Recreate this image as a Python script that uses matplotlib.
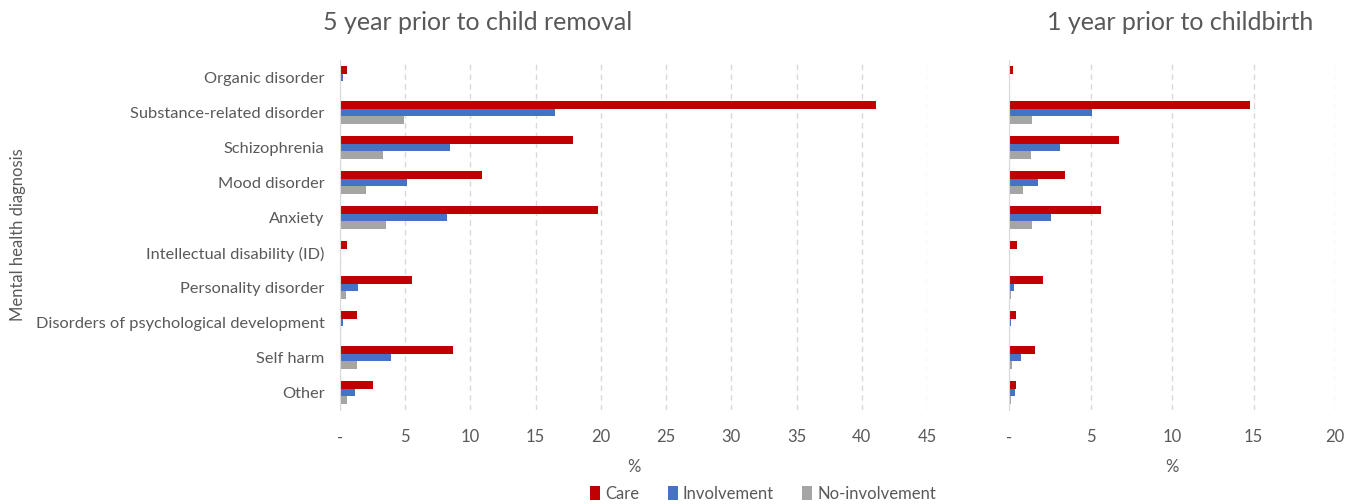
import matplotlib
matplotlib.use("Agg")
import matplotlib.pyplot as plt
import numpy as np

plt.rcParams['font.family'] = ['Lato', 'DejaVu Sans']

# categories (top to bottom)
categories = ["Organic disorder", "Substance-related disorder", "Schizophrenia",
              "Mood disorder", "Anxiety", "Intellectual disability (ID)",
              "Personality disorder", "Disorders of psychological development",
              "Self harm", "Other"]

# 5 years prior to child removal (%)
removal_care = [0.56, 41.1, 17.9, 10.9, 19.8, 0.5, 5.5, 1.28, 8.7, 2.5]
removal_involvement = [0.2, 16.5, 8.4, 5.1, 8.2, 0.03, 1.4, 0.25, 3.9, 1.17]
removal_noinv = [0.03, 4.9, 3.3, 2.0, 3.5, 0.02, 0.44, 0.02, 1.28, 0.56]

# 1 year prior to childbirth (%)
birth_care = [0.22, 14.76, 6.77, 3.43, 5.66, 0.47, 2.1, 0.41, 1.61, 0.41]
birth_involvement = [0.05, 5.07, 3.15, 1.8, 2.58, 0.06, 0.29, 0.12, 0.71, 0.35]
birth_noinv = [0.05, 1.43, 1.37, 0.84, 1.43, 0.04, 0.1, 0.04, 0.16, 0.1]

series_names = ["Care", "Involvement", "No-involvement"]
colors = ["#C00000", "#4472C4", "#A5A5A5"]
text_color = "#595959"

fig = plt.figure(figsize=(13.48, 5.04), dpi=100)
ax1 = fig.add_axes([340 / 1348, 94 / 504, 587 / 1348, 350 / 504])
ax2 = fig.add_axes([1009 / 1348, 94 / 504, 326 / 1348, 350 / 504])

y = np.arange(len(categories))
h = 0.21


def draw(ax, data, xmax, step):
    for i, (vals, col) in enumerate(zip(data, colors)):
        ax.barh(y + (i - 1) * h, vals, height=h, color=col, label=series_names[i])
    ax.set_xlim(0, xmax)
    ax.set_ylim(len(categories) - 0.5, -0.5)
    ticks = np.arange(0, xmax + 0.1, step)
    ax.set_xticks(ticks)
    ax.set_xticklabels(["-"] + [f"{int(t)}" for t in ticks[1:]])
    ax.xaxis.grid(True, linestyle=(0, (4, 3)), color="#D9D9D9", linewidth=1)
    ax.set_axisbelow(True)
    for s in ["top", "right", "bottom"]:
        ax.spines[s].set_visible(False)
    ax.spines["left"].set_color("#D9D9D9")
    ax.tick_params(axis="x", length=0, pad=14, labelsize=12, colors=text_color)
    ax.tick_params(axis="y", length=0, pad=11, labelsize=11.8, colors=text_color)
    ax.set_xlabel("%", fontsize=12, color=text_color, labelpad=10)


draw(ax1, [removal_care, removal_involvement, removal_noinv], 45, 5)
draw(ax2, [birth_care, birth_involvement, birth_noinv], 20, 5)

ax1.set_yticks(y)
ax1.set_yticklabels(categories)
ax2.set_yticks([])
fig.text(18 / 1348, 1 - 235 / 504, "Mental health diagnosis", fontsize=12,
         color=text_color, rotation=90, ha="center", va="center")

fig.text(478 / 1348, 1 - 22 / 504, "5 year prior to child removal", fontsize=18,
         color=text_color, ha="center", va="center")
fig.text(1180 / 1348, 1 - 22 / 504, "1 year prior to childbirth", fontsize=18,
         color=text_color, ha="center", va="center")

handles, labels = ax1.get_legend_handles_labels()
fig.legend(handles, labels, loc="center", bbox_to_anchor=(763 / 1348, 1 - 494 / 504),
           ncol=3, frameon=False, fontsize=12, handlelength=0.6, handleheight=0.9,
           handletextpad=0.3, columnspacing=1.7, labelcolor=text_color)

fig.savefig("out.png", dpi=100)
